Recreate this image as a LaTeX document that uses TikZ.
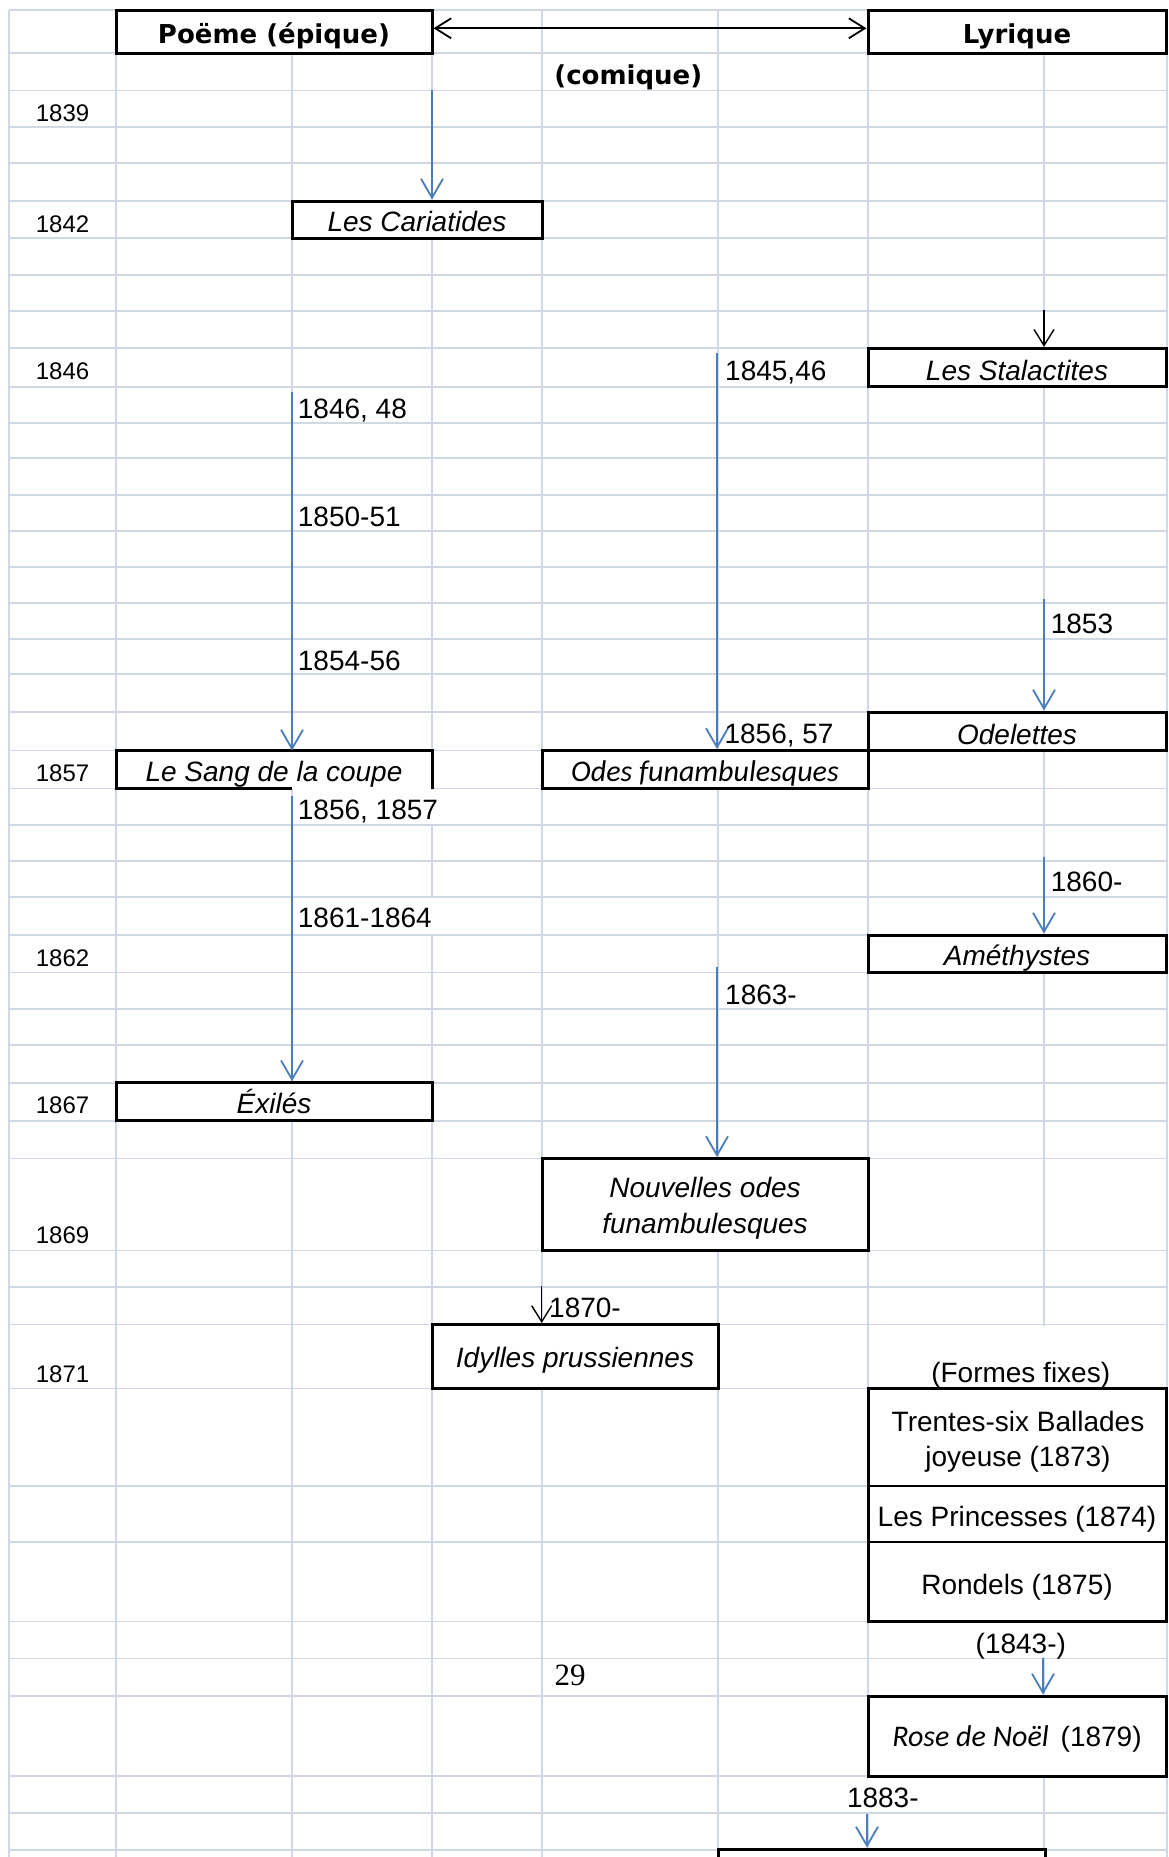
\documentclass[tikz,border=0pt]{standalone}
\usepackage{fontspec}
\setmainfont{Liberation Sans}
\newfontfamily\headfont{DejaVu Sans}
\newfontfamily\calfont{Carlito}
\newfontfamily\serfont{Liberation Serif}
\usetikzlibrary{arrows.meta,fit,calc}
\definecolor{gridc}{RGB}{208,215,229}
\definecolor{arrblue}{RGB}{74,126,187}
\tikzset{
  gridline/.style={draw=gridc, line width=1.8pt},
  whiteout/.style={draw=white, line width=3pt},
  bigbox/.style={draw=black, fill=white, line width=3pt, inner sep=0pt, text depth=0pt},
  thinbox/.style={draw=black, fill=white, line width=1.3pt, inner sep=0pt, outer sep=0pt, text depth=0pt},
  regf/.style={font=\fontsize{28}{30}\selectfont},
  itf/.style={font=\fontsize{28}{30}\selectfont\itshape},
  calf/.style={font=\fontsize{30}{32}\selectfont\calfont\itshape},
  headf/.style={font=\fontsize{26}{28}\selectfont\headfont\bfseries},
  lab/.style={regf, inner sep=0pt, anchor=base west},
  yearlab/.style={font=\fontsize{24}{26}\selectfont, inner sep=0pt, anchor=base},
  ctext/.style={regf, inner sep=0pt, anchor=base},
  bluearrow/.style={draw=arrblue, line width=1.8pt, -{Straight Barb[length=19pt,width=22pt]}},
  blackarrow/.style={draw=black, line width=1.4pt, -{Straight Barb[length=16pt,width=20pt]}},
}
\begin{document}
\begin{tikzpicture}[x=1pt,y=-1pt]
\path[use as bounding box] (0,0) rectangle (1168,1857);
\clip (0,0) rectangle (1168,1857);
\fill[white] (0,0) rectangle (1168,1857);

% grid
\foreach \y in {10,52.7,90.5,126.7,163.3,201,238.3,275,311,348.3,386.7,422.7,458.3,495,531,566.7,602.7,639,674,712,750.5,788.5,825,861,896.7,935,972.5,1009,1045,1082.7,1120.7,1158.5,1250.5,1286.7,1324.5,1388.5,1486,1542,1621.5,1658.5,1696,1776,1813,1850}
  \draw[gridline] (9,\y) -- (1168,\y);
\foreach \x in {9,116,292,432,542,718,868,1044,1167}
  \draw[gridline] (\x,10) -- (\x,1857);
% gridlines hidden by overflowing text
\draw[whiteout] (432,790) -- (432,823.5);
\draw[whiteout] (432,898.2) -- (432,933.5);
\draw[whiteout] (1044,1326) -- (1044,1387);
\draw[whiteout] (1044,1623) -- (1044,1657);
\draw[whiteout] (868,1777.5) -- (868,1811.5);

% header boxes
\node[bigbox, headf, minimum width=316pt, minimum height=43pt, text height=21.6pt] (poeme) at (274,32.5) {Poëme (épique)};
\node[bigbox, headf, minimum width=298pt, minimum height=43pt, text height=21.6pt] (lyrique) at (1017,32.5) {Lyrique};
\node[headf, inner sep=0pt, anchor=base] (comique) at (628.3,85) {(comique)};

% title boxes
\node[bigbox, itf, minimum width=250pt, minimum height=37.3pt, text height=24.1pt] (cariatides) at (417,219.65) {Les Cariatides};
\node[bigbox, itf, minimum width=298pt, minimum height=38.4pt, text height=25pt] (stalactites) at (1017,367.5) {Les Stalactites};
\node[bigbox, draw=none, outer sep=0pt, itf, minimum width=316pt, minimum height=38pt, text height=24.4pt] (sang) at (274,769.5) {Le Sang de la coupe};
\node[bigbox, calf, minimum width=326pt, minimum height=38pt, text height=24.4pt] (odes) at (705,769.5) {Odes funambulesques};
\node[bigbox, itf, minimum width=298pt, minimum height=38.5pt, text height=25.5pt] (odelettes) at (1017,731.25) {Odelettes};
\node[bigbox, itf, minimum width=298pt, minimum height=37.5pt, text height=22.5pt] (amethystes) at (1017,953.75) {Améthystes};
\node[bigbox, itf, minimum width=316pt, minimum height=38pt, text height=23.2pt] (exiles) at (274,1101.7) {Éxilés};
\node[bigbox, minimum width=326pt, minimum height=92pt] (nouvelles) at (705,1204.5) {};
\node[bigbox, itf, minimum width=286pt, minimum height=64pt, text height=21.6pt] (idylles) at (575,1356.5) {Idylles prussiennes};

% formes fixes
\node[thinbox, minimum width=298pt, minimum height=97.5pt] (trentes) at (1017,1437.25) {};
\node[thinbox, regf, minimum width=298pt, minimum height=56pt, text height=24pt] (princesses) at (1017,1514) {Les Princesses (1874)};
\node[thinbox, regf, minimum width=298pt, minimum height=79.5pt, text height=24.5pt] (rondels) at (1017,1581.75) {Rondels (1875)};
\node[draw=black, line width=3pt, inner sep=0pt, fit=(trentes)(rondels)] (formes) {};
\node[bigbox, regf, minimum width=298pt, minimum height=80pt, text height=20pt] (rose) at (1017,1736) {{\calfont\itshape\fontsize{30}{32}\selectfont Rose de Noël}\hspace{12pt}(1879)};
\node[bigbox, minimum width=327pt, minimum height=51pt] (last) at (881.5,1874.5) {};

% border of "Le Sang de la coupe" (bottom edge only on its left half)
\coordinate (s2) at (292,391.7);
\draw[line width=3pt] (s2 |- sang.south) -- (sang.south west) -- (sang.north west) -- (sang.north east) -- (sang.south east);

% texts inside multi-line boxes
\node[itf, inner sep=0pt, anchor=base] (nouvA) at (705,1197.7) {Nouvelles odes};
\node[itf, inner sep=0pt, anchor=base] (nouvB) at (705,1233.3) {funambulesques};
\node[ctext] (trentesA) at (1018,1431.7) {Trentes-six Ballades};
\node[ctext] (trentesB) at (1018,1466.7) {joyeuse (1873)};

% connectors
\coordinate (hy) at (0,28.3);
\draw[draw=black, line width=1.8pt, {Straight Barb[length=16pt,width=20pt]}-{Straight Barb[length=16pt,width=20pt]}] (poeme.east |- hy) -- (lyrique.west |- hy);
\coordinate (s1) at (432,90);
\draw[bluearrow] (s1) -- (s1 |- cariatides.north);
\draw[bluearrow] (s2) -- (s2 |- sang.north);
\coordinate (s3) at (717,353);
\draw[bluearrow] (s3) -- (s3 |- odes.north);
\coordinate (s4) at (1044,599.3);
\draw[bluearrow] (s4) -- (s4 |- odelettes.north);
\coordinate (s5) at (292,795.7);
\draw[bluearrow] (s5) -- (s5 |- exiles.north);
\coordinate (s6) at (1044,857.3);
\draw[bluearrow] (s6) -- (s6 |- amethystes.north);
\coordinate (s7) at (717,967);
\draw[bluearrow] (s7) -- (s7 |- nouvelles.north);
\coordinate (s8) at (1043,1658);
\draw[bluearrow] (s8) -- (s8 |- rose.north);
\coordinate (s9) at (867,1814);
\draw[bluearrow] (s9) -- (s9 |- last.north);
\coordinate (t1) at (1044,310);
\draw[blackarrow] (t1) -- (t1 |- stalactites.north);
\coordinate (t2) at (541.7,1286);
\draw[blackarrow] (t2) -- (t2 |- idylles.north);

% year labels
\node[yearlab] (y1839) at (62.6,122) {1839};
\node[yearlab] (y1842) at (62.6,232) {1842};
\node[yearlab] (y1846) at (62.6,379.3) {1846};
\node[yearlab] (y1857) at (62.6,781.3) {1857};
\node[yearlab] (y1862) at (62.6,966) {1862};
\node[yearlab] (y1867) at (62.6,1113.6) {1867};
\node[yearlab] (y1869) at (62.6,1243.6) {1869};
\node[yearlab] (y1871) at (62.6,1382) {1871};

% connector labels
\node[lab] (l1) at (297.7,418.3) {1846, 48};
\node[lab] (l2) at (297.7,526.5) {1850-51};
\node[lab] (l3) at (297.7,670) {1854-56};
\node[lab] (l4) at (297.7,819.3) {1856, 1857};
\node[lab] (l5) at (297.7,927.7) {1861-1864};
\node[lab] (l6) at (725,380) {1845,46};
\node[lab] (l7) at (724.4,743.3) {1856, 57};
\node[lab] (l8) at (1050.6,633.3) {1853};
\node[lab] (l9) at (1050.6,891.7) {1860-};
\node[lab] (l10) at (725,1004) {1863-};
\node[lab] (l11) at (549,1317.7) {1870-};
\node[ctext] (l12) at (882.8,1807.3) {1883-};
\node[ctext] (l13) at (1020.8,1653.4) {(1843-)};
\node[ctext] (formestxt) at (1020.7,1382) {(Formes fixes)};
\node[inner sep=0pt, anchor=base, font=\fontsize{31}{33}\selectfont\serfont] (page) at (570,1685) {29};
\end{tikzpicture}
\end{document}
